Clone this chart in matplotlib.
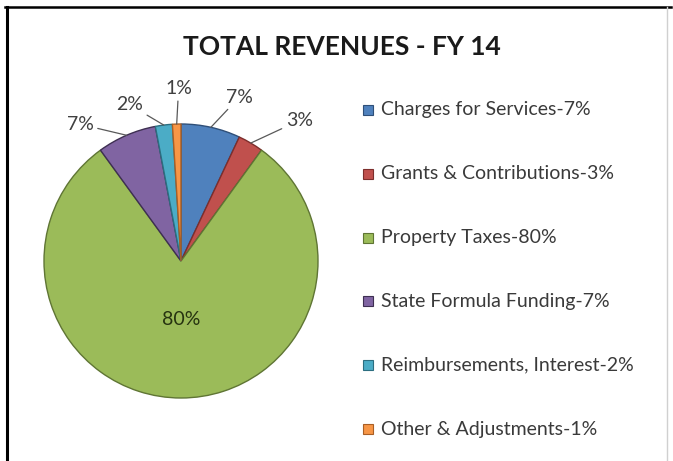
import matplotlib
matplotlib.use("Agg")
import matplotlib.pyplot as plt
from matplotlib.lines import Line2D
from matplotlib.patches import Rectangle
import numpy as np

# Revenue categories and their share of the total (percent)
categories = ['Charges for Services', 'Grants & Contributions', 'Property Taxes',
              'State Formula Funding', 'Reimbursements, Interest', 'Other & Adjustments']
shares = [7, 3, 80, 7, 2, 1]
colors = ['#4F81BD', '#C0504D', '#9BBB59', '#8064A2', '#4BACC6', '#F79646']
edge_colors = ['#2f4f78', '#7d2e2c', '#5f7534', '#3e2f52', '#2c6e80', '#a95f25']

plt.rcParams['font.family'] = ['Lato', 'DejaVu Sans']

W, H = 673, 461
fig = plt.figure(figsize=(W / 100, H / 100), dpi=100)
fig.patch.set_facecolor('white')

# pie axes, centred on the pie (pixel units converted to figure fractions)
cx, cy, r_px, half = 181, 461 - 261, 137, 190
ax = fig.add_axes([(cx - half) / W, (cy - half) / H, 2 * half / W, 2 * half / H])

wedges, _ = ax.pie(shares, colors=colors, startangle=90, counterclock=False,
                   radius=1.0, wedgeprops=dict(linewidth=1.0))
for w, ec in zip(wedges, edge_colors):
    w.set_edgecolor(ec)

# pie() resets the limits, so set them afterwards
lim = half / r_px
ax.set_xlim(-lim, lim)
ax.set_ylim(-lim, lim)
ax.set_aspect('equal')
ax.axis('off')

# outside labels for the small slices: (angle shift in deg, text radius)
label_layout = {0: (-7, 1.27), 1: (-9.5, 1.34), 3: (13, 1.24), 4: (11, 1.2), 5: (-1, 1.26)}
for i, w in enumerate(wedges):
    mid = np.deg2rad((w.theta1 + w.theta2) / 2)
    txt = f'{shares[i]}%'
    if i == 2:
        ax.text(0, -0.43, txt, ha='center', va='center', fontsize=14, color='#263310')
        continue
    shift, tr = label_layout[i]
    ang = mid + np.deg2rad(shift)
    tx, ty = tr * np.cos(ang), tr * np.sin(ang)
    ex, ey = np.cos(mid), np.sin(mid)
    ax.annotate(txt, xy=(ex, ey), xytext=(tx, ty), ha='center', va='center',
                fontsize=14, color='#404040',
                arrowprops=dict(arrowstyle='-', color='#595959', lw=0.9,
                                shrinkA=1, shrinkB=0))

# title
fig.text(342 / W, 1 - 47 / H, 'TOTAL REVENUES - FY 14', ha='center', va='center',
         fontsize=19, fontweight='bold', color='#1a1a1a')

# legend entries
for i, (name, pct, c, ec) in enumerate(zip(categories, shares, colors, edge_colors)):
    y = 1 - (110 + i * 63.8) / H
    fig.add_artist(Rectangle((363 / W, y - 5 / H), 10 / W, 10 / H, facecolor=c,
                             edgecolor=ec, lw=0.8, transform=fig.transFigure))
    fig.text(381 / W, y, f'{name}-{pct}%', ha='left', va='center',
             fontsize=14, color='#3a3a3a')

# frame lines around the chart area
fig.add_artist(Line2D([6.5 / W, 6.5 / W], [0, 1 - 7 / H], color='black', lw=2.2,
                      transform=fig.transFigure))
fig.add_artist(Line2D([5 / W, 671 / W], [1 - 7 / H, 1 - 7 / H], color='black', lw=1.8,
                      transform=fig.transFigure))
fig.add_artist(Line2D([667 / W, 667 / W], [0, 1 - 7 / H], color='#d0d0d0', lw=1.0,
                      transform=fig.transFigure))

fig.savefig('out.png', dpi=100, facecolor='white')
